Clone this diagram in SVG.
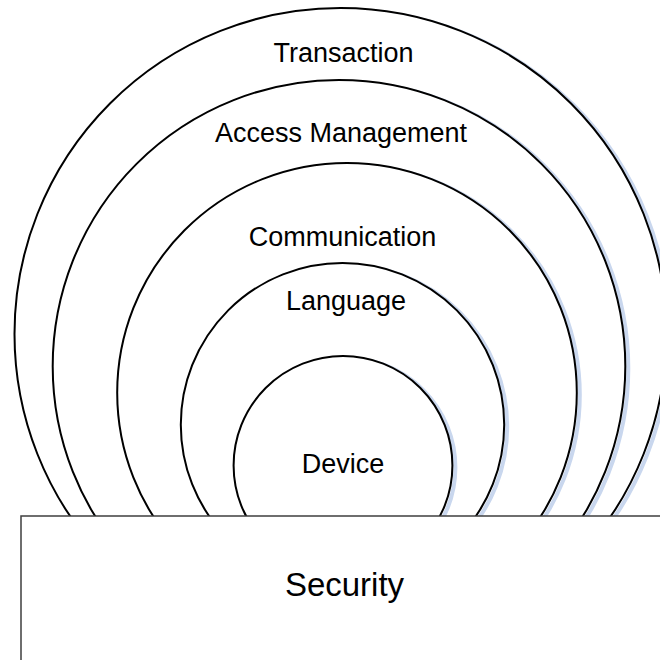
<svg xmlns="http://www.w3.org/2000/svg" width="660" height="660" viewBox="0 0 660 660">
  <style>
    .ring { fill: #ffffff; stroke: #000000; stroke-width: 2; }
    .shadow { fill: none; stroke: #c9d7ee; stroke-width: 4; }
    .label { font-family: "Liberation Sans", Arial, sans-serif; font-size: 27px; fill: #000000; text-anchor: middle; }
    .base { fill: #ffffff; stroke: #3f3f3f; stroke-width: 1.5; }
    .baselabel { font-family: "Liberation Sans", Arial, sans-serif; font-size: 33px; fill: #000000; text-anchor: middle; }
  </style>
  <rect width="660" height="660" fill="#ffffff"/>
  <g id="transaction">
    <circle class="shadow" cx="343.5" cy="336" r="326"/>
    <circle class="ring" cx="340.5" cy="334" r="326"/>
    <text class="label" x="343.5" y="62">Transaction</text>
  </g>
  <g id="access-management">
    <circle class="shadow" cx="342" cy="368.3" r="286.3"/>
    <circle class="ring" cx="339" cy="366.3" r="286.3"/>
    <text class="label" x="341" y="142">Access Management</text>
  </g>
  <g id="communication">
    <circle class="shadow" cx="350" cy="394.8" r="229.8"/>
    <circle class="ring" cx="347" cy="392.8" r="229.8"/>
    <text class="label" x="342.5" y="246">Communication</text>
  </g>
  <g id="language">
    <circle class="shadow" cx="345.5" cy="426.7" r="161.7"/>
    <circle class="ring" cx="342.5" cy="424.7" r="161.7"/>
    <text class="label" x="346" y="310">Language</text>
  </g>
  <g id="device">
    <circle class="shadow" cx="346" cy="467.4" r="109.4"/>
    <circle class="ring" cx="343" cy="465.4" r="109.4"/>
    <text class="label" x="343" y="473">Device</text>
  </g>
  <g id="security">
    <rect class="base" x="21" y="516" width="700" height="200"/>
    <text class="baselabel" x="344.5" y="596">Security</text>
  </g>
  <g id="connectors"></g>
</svg>
